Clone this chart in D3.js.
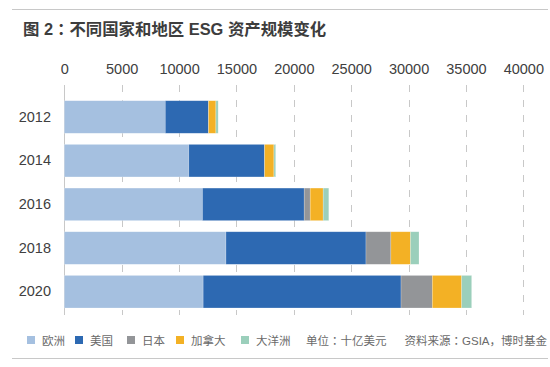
<!DOCTYPE html>
<html><head><meta charset="utf-8">
<script src="https://cdn.jsdelivr.net/npm/d3@7"></script>
<style>
html,body{margin:0;padding:0;background:#fff;}
svg{display:block;}
text{font-family:"Liberation Sans",Arial,"Noto Sans CJK SC",sans-serif;}
.colon{font-family:"Noto Sans CJK TC","Noto Sans CJK SC",sans-serif;}
</style></head>
<body>
<script>
const years = ["2012","2014","2016","2018","2020"];
const seriesNames = ["欧洲","美国","日本","加拿大","大洋洲"];
const europe  = [8800, 10850, 12040, 14090, 12100];
const usa     = [3760, 6600, 8865, 12200, 17245];
const japan   = [10, 7, 525, 2170, 2725];
const canada  = [640, 810, 1130, 1710, 2560];
const oceania = [200, 155, 490, 740, 870];
const xTicks = [0,5000,10000,15000,20000,25000,30000,35000,40000];
const colors = ["#a5c0e0","#2d69b2","#939598","#f3b125","#9bcfbb"];
const title = "图 2：不同国家和地区 ESG 资产规模变化";
const unitNote = "单位：十亿美元";
const sourceNote = "资料来源：GSIA，博时基金";

const W = 550, H = 367;
const svg = d3.select("body").append("svg").attr("width", W).attr("height", H);

const x = d3.scaleLinear().domain([0, 40000]).range([64.3, 523.3]);
const y = d3.scaleBand().domain(years).range([89.8, 318.9]).paddingInner(0.255).paddingOuter(0.25);

// helper: write text with the full-width colon in a centred-colon font
function richText(sel, str) {
  const parts = str.split("：");
  parts.forEach((p, i) => {
    if (i > 0) sel.append("tspan").attr("class", "colon").text("：");
    sel.append("tspan").text(p);
  });
  return sel;
}

// frame lines
svg.append("line").attr("x1", 12).attr("x2", 548).attr("y1", 9.5).attr("y2", 9.5)
  .attr("stroke", "#c8c8c8").attr("stroke-width", 1);
svg.append("line").attr("x1", 12).attr("x2", 548).attr("y1", 358.5).attr("y2", 358.5)
  .attr("stroke", "#c8c8c8").attr("stroke-width", 1);

// title
richText(svg.append("text").attr("x", 23).attr("y", 35)
  .attr("font-size", 16.4).attr("font-weight", "bold").attr("fill", "#3d3d3d"), title);

// grid
svg.append("g").selectAll("line").data(xTicks.slice(1)).join("line")
  .attr("x1", d => Math.round(x(d)) + 0.5).attr("x2", d => Math.round(x(d)) + 0.5)
  .attr("y1", 85).attr("y2", 315)
  .attr("stroke", "#c8c8c8").attr("stroke-width", 1).attr("stroke-dasharray", "7,8");
svg.append("line").attr("x1", Math.round(x(0)) + 0.5).attr("x2", Math.round(x(0)) + 0.5).attr("y1", 85).attr("y2", 315)
  .attr("stroke", "#c8c8c8").attr("stroke-width", 1);

// top axis labels
const xAxis = d3.axisTop(x).tickValues(xTicks).tickSize(0).tickPadding(0).tickFormat(d => String(d));
const gx = svg.append("g").attr("transform", "translate(0,73.5)").call(xAxis);
gx.select(".domain").remove();
gx.selectAll("text").attr("font-size", 14.5).attr("fill", "#404040")
  .attr("font-family", "'Liberation Sans',Arial,sans-serif").attr("dy", 0);

// y labels
const yAxis = d3.axisLeft(y).tickSize(0).tickPadding(0);
const gy = svg.append("g").attr("transform", "translate(51,0)").call(yAxis);
gy.select(".domain").remove();
gy.selectAll("text").attr("font-size", 14.5).attr("fill", "#404040")
  .attr("font-family", "'Liberation Sans',Arial,sans-serif");

// stacked data
const table = years.map((yr, i) => ({year: yr, "欧洲": europe[i], "美国": usa[i], "日本": japan[i], "加拿大": canada[i], "大洋洲": oceania[i]}));
const stacked = d3.stack().keys(seriesNames)(table);

svg.append("g").selectAll("g").data(stacked).join("g")
  .attr("fill", (d, i) => colors[i])
  .selectAll("rect").data(d => d).join("rect")
  .attr("x", d => x(d[0]))
  .attr("width", d => Math.max(0, x(d[1]) - x(d[0])))
  .attr("y", d => y(d.data.year))
  .attr("height", y.bandwidth())
  .attr("stroke", "#ffffff").attr("stroke-opacity", 0.35).attr("stroke-width", 0.6);

// legend
const legendX = [27, 75, 127, 176, 241];
const lg = svg.append("g");
seriesNames.forEach((name, i) => {
  lg.append("rect").attr("x", legendX[i]).attr("y", 336).attr("width", 8).attr("height", 8).attr("fill", colors[i]);
  lg.append("text").attr("x", legendX[i] + 15).attr("y", 344.5).text(name)
    .attr("font-size", 11.5).attr("fill", "#6a6a6a");
});
richText(svg.append("text").attr("x", 306).attr("y", 344.5).attr("font-size", 11.5).attr("fill", "#6a6a6a"), unitNote);
richText(svg.append("text").attr("x", 547).attr("y", 344.5).attr("text-anchor", "end").attr("font-size", 11.5).attr("fill", "#6a6a6a"), sourceNote);
</script>
</body></html>
